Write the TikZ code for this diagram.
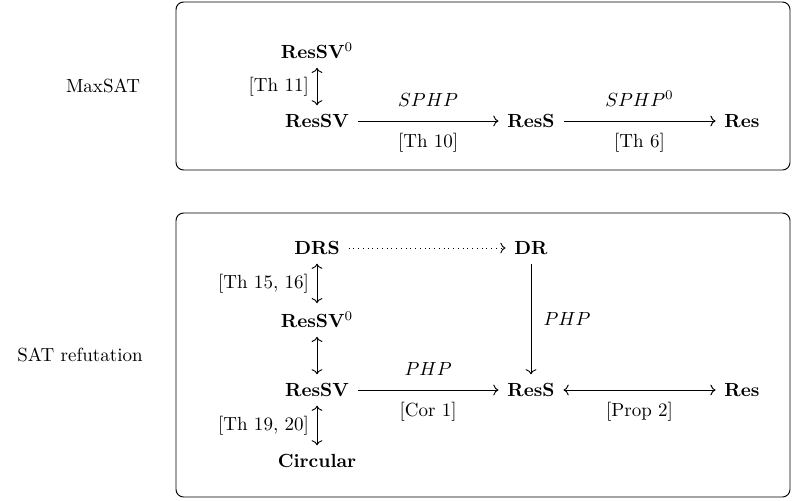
\documentclass[tikz,border=0pt]{standalone}
\usetikzlibrary{arrows.meta}
\begin{document}
\begin{tikzpicture}[x=0.526pt,y=-0.526pt,
  nd/.style={font=\bfseries, inner sep=4.5pt},
  lbl/.style={inner sep=1pt},
  frame/.style={draw, rounded corners=4pt, line width=0.5pt},
  arr/.style={->, line width=0.5pt},
  darr/.style={<->, line width=0.5pt}]
\useasboundingbox (0,0) rectangle (793,500);
% frames
\draw[frame] (176,2) rectangle (790,170);
\draw[frame] (176,213) rectangle (790,497);
\node (maxsat) at (103,86) {MaxSAT};
\node (satref) at (80,355) {SAT refutation};
% top
\node[nd] (t0) at (317,51) {ResSV$^0$};
\node[nd] (tsv) at (317,121) {ResSV};
\node[nd] (ts) at (531,121) {ResS};
\node[nd] (tr) at (742,121) {Res};
\draw[darr] (t0) -- node[left=3pt,lbl] {[Th 11]} (tsv);
\draw[arr] (tsv) -- node[above=4pt] {$SPHP$} node[below=3pt] {[Th 10]} (ts);
\draw[arr] (ts) -- node[above=4pt] {$SPHP^0$} node[below=3pt] {[Th 6]} (tr);
% bottom
\node[nd] (drs) at (317,248) {DRS};
\node[nd] (dr) at (531,248) {DR};
\node[nd] (b0) at (317,320) {ResSV$^0$};
\node[nd] (bsv) at (317,390) {ResSV};
\node[nd] (circ) at (317,461) {Circular};
\node[nd] (bs) at (531,390) {ResS};
\node[nd] (br) at (742,390) {Res};
\draw[arr, dotted] (drs) -- (dr);
\draw[darr] (drs) -- node[left=3pt,lbl] {[Th 15, 16]} (b0);
\draw[darr] (b0) -- (bsv);
\draw[darr] (bsv) -- node[left=3pt,lbl] {[Th 19, 20]} (circ);
\draw[arr] (dr) -- node[right=3pt] {$PHP$} (bs);
\draw[arr] (bsv) -- node[above=4pt] {$PHP$} node[below=3pt] {[Cor 1]} (bs);
\draw[darr] (bs) -- node[below=3pt] {[Prop 2]} (br);
\end{tikzpicture}
\end{document}
